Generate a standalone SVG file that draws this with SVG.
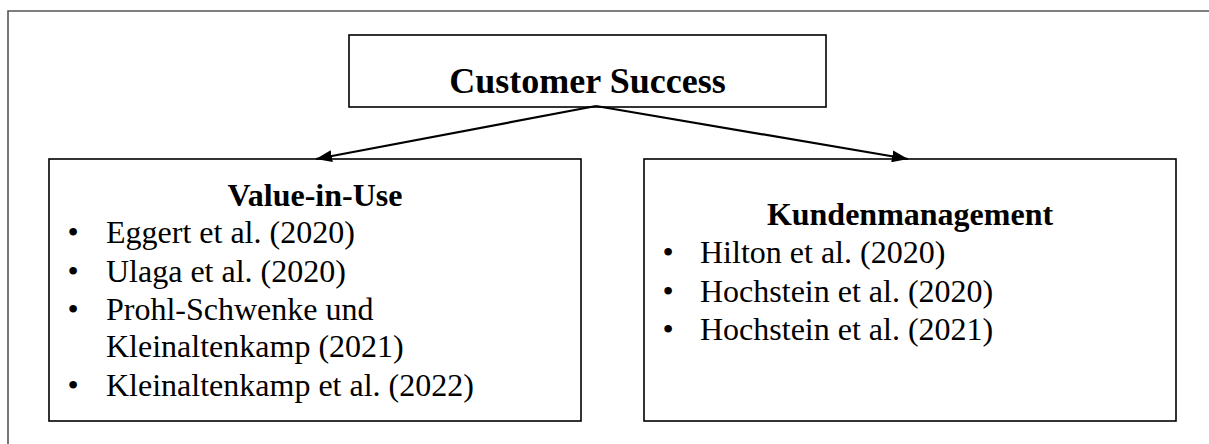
<svg xmlns="http://www.w3.org/2000/svg" width="1209" height="444" viewBox="0 0 1209 444">
  <style>
    .box { fill: #ffffff; stroke: #000000; stroke-width: 1.6; }
    .frame { fill: none; stroke: #555555; stroke-width: 1.6; }
    .title { font-family: "Liberation Serif", "Times New Roman", serif; font-weight: bold; font-size: 36px; fill: #000; }
    .head { font-family: "Liberation Serif", "Times New Roman", serif; font-weight: bold; font-size: 32px; fill: #000; }
    .item { font-family: "Liberation Serif", "Times New Roman", serif; font-size: 32px; fill: #000; }
    .edge { fill: none; stroke: #000000; stroke-width: 2.2; }
  </style>
  <defs>
    <marker id="arrow" viewBox="0 0 16 12" refX="16" refY="6" markerWidth="16" markerHeight="12" markerUnits="userSpaceOnUse" orient="auto">
      <path d="M0,0 L16,6 L0,12 Z" fill="#000000"/>
    </marker>
  </defs>
  <rect width="1209" height="444" fill="#ffffff"/>

  <!-- outer frame (top and left edges) -->
  <path class="frame" d="M8,444 L8,11 L1209,11"/>

  <g id="node-customer-success">
    <rect class="box" x="349" y="35" width="477" height="72"/>
    <text class="title" x="587.5" y="93" text-anchor="middle">Customer Success</text>
  </g>

  <g id="node-value-in-use">
    <rect class="box" x="49" y="159" width="532" height="262"/>
    <text class="head" x="315" y="206" text-anchor="middle">Value-in-Use</text>
    <g class="item">
      <text x="73" y="243" text-anchor="middle">•</text>
      <text x="106" y="243">Eggert et al. (2020)</text>
      <text x="73" y="281.5" text-anchor="middle">•</text>
      <text x="106" y="281.5">Ulaga et al. (2020)</text>
      <text x="73" y="320" text-anchor="middle">•</text>
      <text x="106" y="320">Prohl-Schwenke und</text>
      <text x="106" y="357">Kleinaltenkamp (2021)</text>
      <text x="73" y="395.5" text-anchor="middle">•</text>
      <text x="106" y="395.5">Kleinaltenkamp et al. (2022)</text>
    </g>
  </g>

  <g id="node-kundenmanagement">
    <rect class="box" x="644" y="159" width="532" height="262"/>
    <text class="head" x="910" y="225" text-anchor="middle">Kundenmanagement</text>
    <g class="item">
      <text x="668" y="263" text-anchor="middle">•</text>
      <text x="700" y="263">Hilton et al. (2020)</text>
      <text x="668" y="301.5" text-anchor="middle">•</text>
      <text x="700" y="301.5">Hochstein et al. (2020)</text>
      <text x="668" y="340" text-anchor="middle">•</text>
      <text x="700" y="340">Hochstein et al. (2021)</text>
    </g>
  </g>

  <g id="connectors">
    <line class="edge" x1="596" y1="106" x2="316" y2="159" marker-end="url(#arrow)"/>
    <line class="edge" x1="596" y1="106" x2="908" y2="159" marker-end="url(#arrow)"/>
  </g>
</svg>
